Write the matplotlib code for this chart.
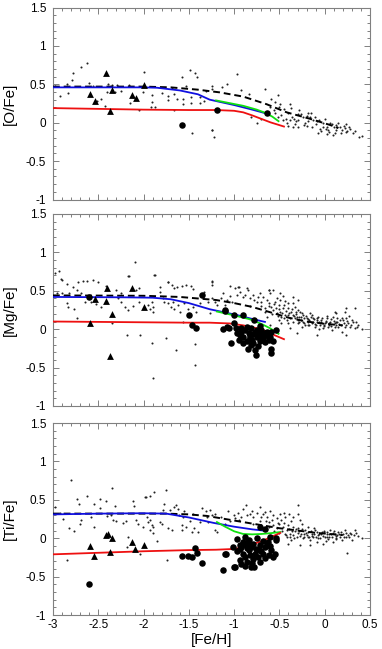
"""
[X/Fe] vs [Fe/H] for O, Mg and Ti: field stars (small dots), halo
clusters (triangles), dwarf galaxy stars (big dots) and model tracks.
"""

import numpy as np
import matplotlib
matplotlib.use('Agg')
import matplotlib.pyplot as plt
from matplotlib.ticker import MultipleLocator, FormatStrFormatter

plt.rcParams['font.family'] = ['Liberation Sans', 'DejaVu Sans']
plt.rcParams['axes.unicode_minus'] = False

# ---------------- [O/Fe] ----------------
O_DOTS = [
    (-2.62, 0.78), (-2.69, 0.72), (-2.78, 0.65), (-2.79, 0.56), (-2.84, 0.50),
    (-2.92, 0.35), (-2.83, 0.39), (-2.98, 0.48), (-2.60, 0.52), (-2.56, 0.48),
    (-2.47, 0.31), (-2.51, 0.28), (-2.43, 0.22), (-2.39, 0.50), (-2.35, 0.49),
    (-2.29, 0.49), (-2.32, 0.40), (-2.25, 0.41), (-2.40, 0.40), (-2.16, 0.49),
    (-2.15, 0.26), (-2.12, 0.33), (-2.05, 0.16), (-1.99, 0.66), (-2.01, 0.40),
    (-1.91, 0.36), (-1.91, 0.27), (-1.92, 0.20), (-1.87, 0.20), (-1.80, 0.39),
    (-1.73, 0.35), (-1.73, 0.30), (-1.69, 0.45), (-1.66, 0.38), (-1.66, 0.16),
    (-1.63, 0.31), (-1.58, 0.60), (-1.57, 0.25), (-1.56, 0.31), (-1.49, 0.68),
    (-1.43, 0.65), (-1.41, 0.60), (-1.48, 0.33), (-1.48, 0.26), (-1.53, 0.48),
    (-1.38, 0.33), (-1.38, 0.26), (-1.33, 0.28), (-1.31, 0.41), (-1.24, -0.09),
    (-1.47, -0.13), (-1.24, 0.48), (-0.965, 0.63), (-1.08, 0.51), (-1.13, 0.46),
    (-1.25, 0.44), (-0.92, 0.42), (-0.84, 0.37), (-0.66, 0.44), (-0.81, 0.07),
    (-0.75, 0.00), (-1.24, -0.09), (-1.22, -0.19), (-0.59, 0.31), (-0.55, 0.27),
    (-0.49, 0.25), (-0.50, 0.20), (-0.60, 0.20), (-0.55, 0.13), (-0.48, 0.10),
    (-0.38, 0.24), (-0.37, 0.19), (-0.41, 0.12), (-0.43, 0.05), (-0.38, 0.03),
    (-0.34, 0.05), (-0.33, -0.02), (-0.30, 0.11), (-0.28, 0.16), (-0.29, 0.04),
    (-0.24, 0.07), (-0.22, 0.00), (-0.20, -0.04), (-0.18, 0.12), (-0.16, 0.07),
    (-0.15, 0.12), (-0.13, 0.03), (-0.10, -0.02), (-0.07, -0.13), (-0.05, -0.08),
    (-0.02, -0.01), (-0.02, -0.06), (0.00, 0.05), (0.03, -0.05), (0.04, -0.10),
    (0.06, 0.00), (0.08, -0.02), (0.09, -0.16), (0.10, -0.05), (0.12, -0.03),
    (0.13, -0.10), (0.15, -0.01), (0.17, -0.05), (0.19, -0.10), (0.21, -0.04),
    (0.22, -0.07), (0.24, -0.02), (0.25, -0.11), (0.28, -0.08), (0.31, -0.14),
    (0.38, -0.18), (0.41, -0.17), (0.02, -0.15), (-0.40, -0.04), (-0.35, -0.05),
    (-0.30, -0.06), (-0.46, 0.03), (-0.20, 0.09), (-0.08, 0.02),
    (-0.56, 0.16), (-0.52, 0.07), (-0.45, 0.18), (-0.42, 0.00), (-0.36, 0.08),
    (-0.32, 0.02), (-0.26, 0.11), (-0.23, -0.03), (-0.18, 0.02), (-0.14, -0.05),
    (-0.11, 0.08), (-0.06, 0.03), (-0.04, -0.11), (0.01, -0.08), (0.05, -0.12),
    (0.11, -0.13), (0.14, -0.06), (0.18, -0.14), (0.23, -0.12), (0.27, -0.05),
    (0.33, -0.11), (-0.52, 0.36), (-0.70, 0.05),
]
O_TRI = [(-2.415, 0.65), (-2.59, 0.37), (-2.54, 0.28), (-2.37, 0.15),
         (-2.345, 0.43), (-2.13, 0.36), (-2.08, 0.32), (-2.00, 0.49)]
O_CIRC = [(-1.58, -0.03), (-1.19, 0.165), (-0.64, 0.12)]
O_BLUE = [(-3, 0.46), (-2.5, 0.46), (-2.0, 0.46), (-1.85, 0.455), (-1.6, 0.42),
          (-1.4, 0.37), (-1.27, 0.30), (-1.0, 0.23), (-0.8, 0.17), (-0.66, 0.125)]
O_GREEN = [(-1.2, 0.29), (-0.9, 0.22), (-0.75, 0.17), (-0.66, 0.13),
           (-0.58, 0.08), (-0.51, 0.02)]
O_RED = [(-3, 0.19), (-2.5, 0.18), (-2.0, 0.17), (-1.5, 0.165), (-1.2, 0.165),
         (-1.0, 0.155), (-0.9, 0.135), (-0.8, 0.095), (-0.7, 0.05),
         (-0.6, 0.005), (-0.45, -0.05)]
O_DASH = [(-3, 0.47), (-2.0, 0.47), (-1.7, 0.46), (-1.4, 0.43), (-1.16, 0.395),
          (-0.9, 0.34), (-0.64, 0.24), (-0.42, 0.135), (-0.16, 0.05),
          (0.06, -0.03), (0.15, -0.07)]

# ---------------- [Mg/Fe] ----------------
MG_DOTS = [
    (-2.98, 0.73), (-2.93, 0.76), (-2.90, 0.64), (-2.095, 0.87), (-1.87, 0.71),
    (-2.17, 0.69), (-2.91, 0.65), (-2.85, 0.59), (-2.78, 0.55), (-2.72, 0.62),
    (-2.67, 0.63), (-2.62, 0.63), (-2.56, 0.64), (-2.50, 0.61), (-2.96, 0.47),
    (-2.90, 0.47), (-2.82, 0.47), (-2.74, 0.51), (-2.69, 0.47), (-2.83, 0.29),
    (-2.77, 0.26), (-2.74, 0.14), (-2.85, 0.34), (-2.65, 0.36), (-2.58, 0.36),
    (-2.52, 0.33), (-2.47, 0.29), (-2.41, 0.56), (-2.30, 0.51), (-2.28, 0.40),
    (-2.25, 0.35), (-2.21, 0.29), (-2.17, 0.25), (-2.25, 0.47), (-2.16, 0.69),
    (-2.08, 0.51), (-2.05, 0.54), (-2.12, 0.30), (-2.05, 0.35), (-1.95, 0.315),
    (-1.93, 0.26), (-1.91, 0.36), (-1.90, 0.29), (-1.90, 0.23), (-1.88, 0.71),
    (-2.35, 0.085), (-2.18, -0.08), (-2.04, -0.08), (-1.91, -0.18), (-1.90, -0.64),
    (-1.82, 0.55), (-1.82, 0.49), (-1.79, 0.40), (-1.77, 0.36), (-1.73, 0.62),
    (-1.69, 0.57), (-1.66, 0.53), (-1.63, 0.55), (-1.58, 0.56), (-1.53, 0.58),
    (-1.48, 0.56), (-1.45, 0.52), (-1.73, 0.34), (-1.70, 0.29), (-1.68, 0.36),
    (-1.66, 0.26), (-1.62, 0.32), (-1.60, 0.23), (-1.55, 0.34), (-1.51, 0.26),
    (-1.45, 0.29), (-1.42, 0.23), (-1.38, 0.34), (-1.33, 0.49), (-1.29, 0.36),
    (-1.27, 0.21), (-1.75, -0.11), (-1.64, -0.27), (-1.57, 0.10), (-1.43, -0.19),
    (-1.43, -0.47), (-1.25, 0.63), (-1.73, 0.62),
    (-1.24, 0.62), (-1.24, 0.575), (-1.25, 0.40), (-1.21, 0.36), (-1.19, 0.315),
    (-1.12, 0.47), (-1.08, 0.38), (-1.05, 0.43), (-0.99, 0.53), (-0.95, 0.55),
    (-0.94, 0.49), (-0.90, 0.42), (-0.86, 0.53), (-0.83, 0.40), (-0.79, 0.45),
    (-0.75, 0.36), (-0.72, 0.47), (-0.68, 0.42), (-0.64, 0.38), (-0.62, 0.51),
    (-0.60, 0.47), (-0.61, 0.34), (-0.59, 0.29), (-0.57, 0.25), (-0.55, 0.36),
    (-0.53, 0.21), (-0.51, 0.315), (-0.49, 0.47), (-0.48, 0.16), (-0.46, 0.27),
    (-0.44, 0.19), (-0.40, 0.34), (-0.38, 0.14), (-0.37, 0.23), (-0.35, 0.10),
    (-0.33, 0.29), (-0.31, 0.16), (-0.29, 0.08), (-0.27, 0.23), (-0.26, 0.12),
    (-0.24, 0.19), (-0.22, 0.05), (-0.20, 0.14), (-0.18, 0.10), (-0.16, 0.21),
    (-0.145, 0.08), (-0.13, 0.14), (-0.11, 0.03), (-0.09, 0.10), (-0.07, 0.16),
    (-0.05, 0.05), (-0.04, 0.12), (-0.02, 0.01), (0.00, 0.08), (0.02, 0.14),
    (0.04, 0.03), (0.06, 0.10), (0.08, -0.01), (0.09, 0.16), (0.11, 0.08),
    (0.13, 0.21), (0.15, 0.03), (0.17, 0.12), (0.19, -0.03), (0.21, 0.08),
    (0.22, 0.23), (0.24, 0.14), (0.26, 0.08), (0.28, 0.03), (0.30, 0.12),
    (0.33, 0.01), (0.37, 0.055), (0.41, 0.00), (0.24, 0.28), (0.11, 0.22),
    (-0.09, -0.08), (0.24, -0.08), (-0.31, -0.05), (-0.38, 0.01), (-0.60, 0.05),
    (-0.64, 0.16), (-0.66, 0.23), (-0.35, 0.42), (-0.29, 0.38),
    (-0.42, 0.12), (-0.40, 0.08), (-0.33, 0.14), (-0.30, 0.12), (-0.28, 0.16),
    (-0.24, 0.10), (-0.23, 0.14), (-0.19, 0.05), (-0.17, 0.12), (-0.15, 0.16),
    (-0.13, 0.10), (-0.10, 0.05), (-0.08, 0.12), (-0.04, 0.09), (-0.005, 0.04),
    (0.01, 0.11), (0.05, 0.05), (0.07, 0.13), (0.11, 0.03), (0.12, 0.10),
    (0.16, 0.07), (0.20, 0.12), (0.22, 0.03), (-0.57, 0.51), (-0.53, 0.40),
    (-0.49, 0.38), (-0.46, 0.43), (-0.44, 0.37), (-0.41, 0.27), (-0.49, 0.22),
    (-0.45, 0.14), (-0.355, 0.34), (-0.32, 0.23), (-0.48, 0.08), (-0.51, 0.12),
    (-1.05, 0.56), (-0.955, 0.55), (-0.85, 0.51), (-0.61, 0.51), (0.33, 0.28),
    (0.36, 0.03), (-0.25, 0.03), (-0.06, 0.00), (0.14, 0.15), (-0.35, 0.19),
    (-0.70, 0.30), (-0.66, 0.27), (-0.62, 0.30), (-0.58, 0.20), (-0.56, 0.33),
    (-0.54, 0.28), (-0.52, 0.17), (-0.50, 0.26), (-0.47, 0.21), (-0.45, 0.31),
    (-0.43, 0.24), (-0.41, 0.18), (-0.39, 0.21), (-0.36, 0.26), (-0.34, 0.17),
    (-0.32, 0.20), (-0.30, 0.25), (-0.28, 0.09), (-0.26, 0.16), (-0.25, 0.21),
    (-0.23, 0.08), (-0.21, 0.17), (-0.19, 0.13), (-0.17, 0.06), (-0.14, 0.18),
    (-0.12, 0.13), (-0.11, 0.07), (-0.09, 0.15), (-0.06, 0.09), (-0.03, 0.15),
    (-0.01, 0.06), (0.01, 0.10), (0.03, 0.17), (0.05, 0.08), (0.07, 0.04),
    (0.10, 0.11), (0.12, 0.06), (0.14, 0.09), (0.18, 0.05), (0.19, 0.15),
    (0.23, 0.06), (0.25, 0.11), (0.27, 0.17), (0.29, 0.06), (0.31, 0.09),
    (0.35, 0.10), (-0.78, 0.38), (-0.74, 0.42), (-0.70, 0.36), (-0.88, 0.45),
    (-0.82, 0.30), (-0.97, 0.44), (-1.02, 0.35), (-1.15, 0.40), (-1.10, 0.31),
]
MG_TRI = [(-2.59, 0.085), (-2.54, 0.39), (-2.40, 0.53), (-2.41, 0.37),
          (-2.35, 0.198), (-2.37, -0.35), (-2.13, 0.53), (-2.00, 0.29)]
MG_CIRC = [
    (-2.60, 0.42), (-1.36, 0.445), (-1.50, 0.19), (-1.46, 0.05), (-1.42, 0.01),
    (-1.10, 0.25), (-1.12, 0.00), (-1.06, 0.01), (-1.04, -0.175), (-1.00, 0.18),
    (-1.10, 0.24), (-0.90, 0.19), (-0.78, 0.12), (-1.00, 0.08), (-1.08, 0.03),
    (-0.97, -0.05), (-0.92, 0.01), (-0.86, 0.03), (-0.81, 0.01), (-0.75, -0.01),
    (-0.70, -0.01), (-0.64, -0.03), (-0.59, -0.04), (-0.54, -0.01), (-0.90, -0.10),
    (-0.83, -0.12), (-0.75, -0.10), (-0.68, -0.12), (-0.62, -0.14), (-0.57, -0.16),
    (-0.95, -0.14), (-0.86, -0.16), (-0.79, -0.18), (-0.72, -0.16), (-0.85, -0.26),
    (-0.77, -0.27), (-0.76, -0.33), (-0.59, -0.26), (-0.59, -0.31), (-0.92, -0.03),
    (-0.84, -0.05), (-0.79, -0.06), (-0.68, -0.08), (-0.98, 0.01),
    (-0.93, -0.07), (-0.88, -0.01), (-0.82, -0.09), (-0.77, -0.04), (-0.73, -0.07),
    (-0.70, -0.12), (-0.66, -0.05), (-0.63, -0.09), (-0.60, -0.10), (-0.81, -0.21),
    (-0.74, -0.22), (-0.90, -0.18), (-0.66, -0.17), (-0.72, 0.04), (-0.80, -0.14),
]
MG_BLUE = [(-3, 0.42), (-2.2, 0.415), (-1.9, 0.41), (-1.7, 0.39), (-1.5, 0.34),
           (-1.27, 0.26), (-0.97, 0.185), (-0.79, 0.13), (-0.66, 0.095)]
MG_GREEN = [(-1.19, 0.23), (-1.0, 0.18), (-0.83, 0.13), (-0.7, 0.07),
            (-0.6, 0.01), (-0.51, -0.06)]
MG_RED = [(-3, 0.10), (-2.5, 0.095), (-2.0, 0.09), (-1.5, 0.085), (-1.27, 0.085),
          (-1.05, 0.075), (-0.9, 0.05), (-0.78, 0.02), (-0.68, -0.01),
          (-0.57, -0.07), (-0.45, -0.13)]
MG_DASH = [(-3, 0.44), (-2.0, 0.435), (-1.6, 0.42), (-1.2, 0.38), (-1.0, 0.34),
           (-0.8, 0.29), (-0.6, 0.22), (-0.4, 0.15), (-0.2, 0.10), (0.0, 0.07),
           (0.2, 0.05)]

# ---------------- [Ti/Fe] ----------------
TI_DOTS = [
    (-2.80, 0.76), (-2.98, 0.41), (-2.92, 0.33), (-2.89, 0.25), (-2.82, 0.13),
    (-2.77, 0.09), (-2.85, -0.29), (-2.74, 0.51), (-2.71, 0.45), (-2.63, 0.55),
    (-2.69, 0.24), (-2.70, 0.19), (-2.58, 0.28), (-2.55, 0.45), (-2.55, 0.14),
    (-2.48, 0.51), (-2.48, 0.39), (-2.41, 0.49), (-2.40, 0.29), (-2.35, 0.65),
    (-2.36, 0.30), (-2.34, 0.24), (-2.32, 0.42), (-2.30, 0.22), (-2.23, 0.20),
    (-2.19, 0.22), (-2.17, 0.02), (-2.18, -0.11), (-2.12, 0.48), (-2.11, 0.42),
    (-2.08, 0.24), (-2.06, 0.19), (-2.04, -0.20), (-2.01, 0.14), (-1.98, 0.54),
    (-1.96, 0.28), (-1.93, 0.24), (-1.93, 0.55), (-1.91, 0.17), (-1.90, 0.14),
    (-1.93, 0.11), (-1.90, 0.07), (-1.95, 0.21), (-1.85, -0.04), (-1.82, 0.21),
    (-1.80, 0.19), (-1.79, 0.37), (-1.75, 0.63), (-1.74, -0.28), (-1.77, 0.45),
    (-1.71, 0.37), (-1.73, 0.13), (-1.69, 0.11), (-1.66, 0.41), (-1.64, 0.43),
    (-1.62, 0.38), (-1.61, 0.30), (-1.58, 0.17), (-1.58, 0.11), (-1.57, 0.28),
    (-1.55, 0.35), (-1.53, 0.15), (-1.49, 0.22), (-1.47, 0.08), (-1.45, 0.32),
    (-1.44, 0.13), (-1.40, 0.08), (-1.38, 0.21), (-1.36, 0.39), (-1.31, 0.36),
    (-1.29, 0.21), (-1.27, 0.37), (-1.89, 0.60), (-1.97, 0.54),
    (-0.87, 0.43), (-0.715, 0.41), (-1.25, 0.30), (-1.21, 0.32), (-1.065, 0.36),
    (-1.21, 0.11), (-1.19, 0.085), (-0.955, 0.33), (-0.92, 0.28), (-0.86, 0.30),
    (-0.83, 0.32), (-0.79, 0.28), (-0.75, 0.33), (-0.68, 0.31), (-0.64, 0.28),
    (-0.60, 0.35), (-0.57, 0.30), (-0.53, 0.26), (-0.49, 0.32), (-0.48, 0.24),
    (-0.44, 0.28), (-0.39, 0.32), (-0.37, 0.22), (-0.29, 0.32), (-0.27, 0.24),
    (-0.79, 0.19), (-0.72, 0.23), (-0.99, 0.26), (-1.05, 0.22), (-1.10, 0.19),
    (-0.57, 0.17), (-0.53, 0.13), (-0.46, 0.15), (-0.42, 0.11), (-0.38, 0.06),
    (-0.35, 0.15), (-0.33, 0.09), (-0.31, 0.02), (-0.29, 0.13), (-0.26, 0.06),
    (-0.24, 0.00), (-0.22, 0.11), (-0.20, 0.04), (-0.18, 0.15), (-0.16, -0.02),
    (-0.145, 0.06), (-0.13, 0.02), (-0.11, 0.11), (-0.09, -0.045), (-0.07, 0.04),
    (-0.05, 0.00), (-0.035, 0.085), (-0.02, -0.07), (0.00, 0.02), (0.02, 0.06),
    (0.04, -0.01), (0.06, 0.11), (0.08, 0.02), (0.09, -0.045), (0.11, 0.06),
    (0.13, 0.00), (0.15, 0.085), (0.17, 0.02), (0.19, -0.02), (0.20, 0.055),
    (0.22, 0.11), (0.24, 0.01), (0.26, 0.04), (0.28, 0.07), (0.30, -0.02),
    (0.33, 0.11), (0.37, 0.03), (0.41, 0.00), (0.25, -0.19), (-0.16, -0.09),
    (-0.42, 0.02), (-0.37, -0.02), (-0.40, -0.07), (-0.27, -0.09), (-0.29, 0.43),
    (-0.44, 0.06), (-0.38, 0.02), (-0.35, 0.04), (-0.30, 0.07), (-0.27, 0.03),
    (-0.23, 0.055), (-0.19, 0.085), (-0.17, 0.02), (-0.12, 0.06), (-0.10, 0.02),
    (-0.06, 0.06), (-0.024, 0.03), (-0.005, 0.085), (0.03, 0.01), (0.05, 0.055),
    (0.09, 0.07), (0.12, 0.03), (0.16, 0.06), (-0.62, 0.21), (-0.50, 0.19),
    (-0.66, 0.34), (-0.45, 0.33), (-0.35, 0.27), (-0.25, 0.18),
    (-0.65, 0.22), (-0.62, 0.14), (-0.58, 0.24), (-0.56, 0.09), (-0.52, 0.20),
    (-0.50, 0.07), (-0.47, 0.10), (-0.45, 0.20), (-0.43, 0.04), (-0.41, 0.17),
    (-0.39, 0.12), (-0.36, 0.09), (-0.34, 0.00), (-0.32, 0.12), (-0.28, 0.09),
    (-0.25, 0.12), (-0.23, 0.02), (-0.21, 0.07), (-0.19, 0.01), (-0.15, 0.09),
    (-0.14, 0.03), (-0.12, 0.13), (-0.08, 0.08), (-0.07, 0.00), (-0.04, 0.05),
    (-0.01, 0.10), (0.01, -0.03), (0.03, 0.08), (0.05, 0.02), (0.07, 0.05),
    (0.10, 0.09), (0.12, -0.01), (0.14, 0.04), (0.18, 0.08), (0.21, 0.02),
    (0.23, 0.07), (0.27, 0.01), (0.29, 0.05), (0.32, 0.04), (0.35, 0.07),
    (-0.90, 0.38), (-0.95, 0.24), (-0.80, 0.36), (-0.70, 0.27), (-1.15, 0.28),
    (-1.30, 0.27), (-1.00, 0.30),
]
TI_TRI = [(-2.595, -0.097), (-2.55, -0.23), (-2.42, 0.04), (-2.39, 0.06),
          (-2.35, 0.007), (-2.375, -0.175), (-2.13, -0.045), (-2.09, -0.14),
          (-2.00, -0.09)]
TI_CIRC = [
    (-2.60, -0.59), (-1.58, -0.23), (-1.51, -0.23), (-1.47, -0.24), (-1.43, -0.13),
    (-1.41, -0.19), (-1.36, -0.32), (-1.12, -0.42), (-1.09, -0.20), (-1.00, -0.37),
    (-0.72, 0.15), (-0.66, 0.12), (-0.54, 0.00),
    (-0.97, -0.01), (-0.90, -0.045), (-0.84, -0.02), (-0.75, 0.00), (-0.68, -0.03),
    (-0.60, 0.02), (-0.54, -0.02), (-0.92, -0.11), (-0.86, -0.13), (-0.81, -0.11),
    (-0.73, -0.15), (-0.66, -0.11), (-0.59, -0.15), (-0.97, -0.17), (-0.90, -0.20),
    (-0.83, -0.22), (-0.77, -0.20), (-0.68, -0.20), (-0.62, -0.22), (-0.94, -0.28),
    (-0.86, -0.31), (-0.79, -0.27), (-0.72, -0.31), (-0.88, -0.36), (-0.81, -0.38),
    (-0.99, -0.38), (-1.10, -0.20), (-0.57, -0.24), (-0.55, -0.20), (-0.64, -0.09),
    (-0.72, -0.09), (-0.79, -0.07), (-0.87, -0.09), (-0.94, -0.09), (-1.01, -0.11),
    (-0.93, -0.14), (-0.88, -0.25), (-0.84, -0.16), (-0.80, -0.32), (-0.76, -0.14),
    (-0.74, -0.24), (-0.70, -0.17), (-0.66, -0.26), (-0.63, -0.05), (-0.85, -0.05),
    (-0.78, -0.37), (-0.92, -0.33), (-0.60, -0.10), (-0.88, 0.02),
]
TI_BLUE = [(-3, 0.31), (-2.5, 0.32), (-2.0, 0.325), (-1.75, 0.32), (-1.5, 0.27),
           (-1.23, 0.20), (-1.0, 0.15), (-0.8, 0.115), (-0.68, 0.10)]
TI_GREEN = [(-1.19, 0.21), (-1.1, 0.15), (-1.0, 0.09), (-0.9, 0.055),
            (-0.8, 0.05), (-0.7, 0.055), (-0.6, 0.065), (-0.49, 0.08)]
TI_RED = [(-3, -0.21), (-2.5, -0.19), (-2.0, -0.17), (-1.5, -0.155),
          (-1.2, -0.15), (-1.0, -0.14), (-0.9, -0.12), (-0.8, -0.08),
          (-0.7, -0.04), (-0.6, 0.01), (-0.49, 0.07)]
TI_DASH = [(-3, 0.32), (-2.0, 0.32), (-1.75, 0.32), (-1.5, 0.31), (-1.3, 0.29),
           (-1.1, 0.25), (-0.9, 0.21), (-0.7, 0.17), (-0.5, 0.13), (-0.3, 0.10),
           (-0.1, 0.07), (0.1, 0.05), (0.2, 0.04)]

PANELS = [
    ('[O/Fe]', O_DOTS, O_TRI, O_CIRC, O_BLUE, O_GREEN, O_RED, O_DASH),
    ('[Mg/Fe]', MG_DOTS, MG_TRI, MG_CIRC, MG_BLUE, MG_GREEN, MG_RED, MG_DASH),
    ('[Ti/Fe]', TI_DOTS, TI_TRI, TI_CIRC, TI_BLUE, TI_GREEN, TI_RED, TI_DASH),
]

W, H = 382, 649
# pixel boxes (top, bottom) of the three panels
BOXES = [(7.5, 199.5), (214, 406), (423, 615)]
LEFT, RIGHT = 53, 370
FRAME = '#808080'

fig = plt.figure(figsize=(W / 100, H / 100), dpi=100)

for i, (label, dots, tri, circ, blue, green, red, dash) in enumerate(PANELS):
    top, bot = BOXES[i]
    ax = fig.add_axes([LEFT / W, (H - bot) / H, (RIGHT - LEFT) / W, (bot - top) / H])

    d = np.array(dots)
    ax.scatter(d[:, 0], d[:, 1], s=2.2, color='#222222', linewidths=0, zorder=2)

    for pts, col, ls, lw in [(dash, 'black', (0, (3.5, 2)), 1.4),
                             (blue, '#1010e0', '-', 1.3),
                             (green, '#10e010', '-', 1.3),
                             (red, '#ee1010', '-', 1.3)]:
        p = np.array(pts)
        ax.plot(p[:, 0], p[:, 1], color=col, linestyle=ls, linewidth=lw, zorder=3)

    c = np.array(circ)
    ax.scatter(c[:, 0], c[:, 1], s=22, color='black', linewidths=0, zorder=4)
    t = np.array(tri)
    ax.scatter(t[:, 0], t[:, 1], s=24, marker='^', color='black', linewidths=0, zorder=4)

    ax.set_xlim(-3, 0.5)
    ax.set_ylim(-1, 1.5)
    ax.xaxis.set_major_locator(MultipleLocator(0.5))
    ax.xaxis.set_minor_locator(MultipleLocator(0.1))
    ax.yaxis.set_major_locator(MultipleLocator(0.5))
    ax.yaxis.set_minor_locator(MultipleLocator(0.1))
    ax.xaxis.set_major_formatter(FormatStrFormatter('%g'))
    ax.yaxis.set_major_formatter(FormatStrFormatter('%g'))
    ax.tick_params(which='both', direction='in', top=True, right=True,
                   color=FRAME, width=0.7, labelsize=8.5)
    ax.tick_params(which='major', length=4)
    ax.tick_params(which='minor', length=2)
    ax.tick_params(axis='y', pad=5)
    ax.tick_params(axis='x', pad=3)
    for sp in ax.spines.values():
        sp.set_color(FRAME)
        sp.set_linewidth(0.8)
    if i < 2:
        ax.tick_params(axis='x', labelbottom=False)
    else:
        ax.set_xlabel('[Fe/H]', fontsize=11, labelpad=1)

    fig.text(10 / W, (H - (top + bot) / 2) / H, label, rotation=90,
             ha='center', va='center', fontsize=11)

fig.savefig('out.png', dpi=100)
